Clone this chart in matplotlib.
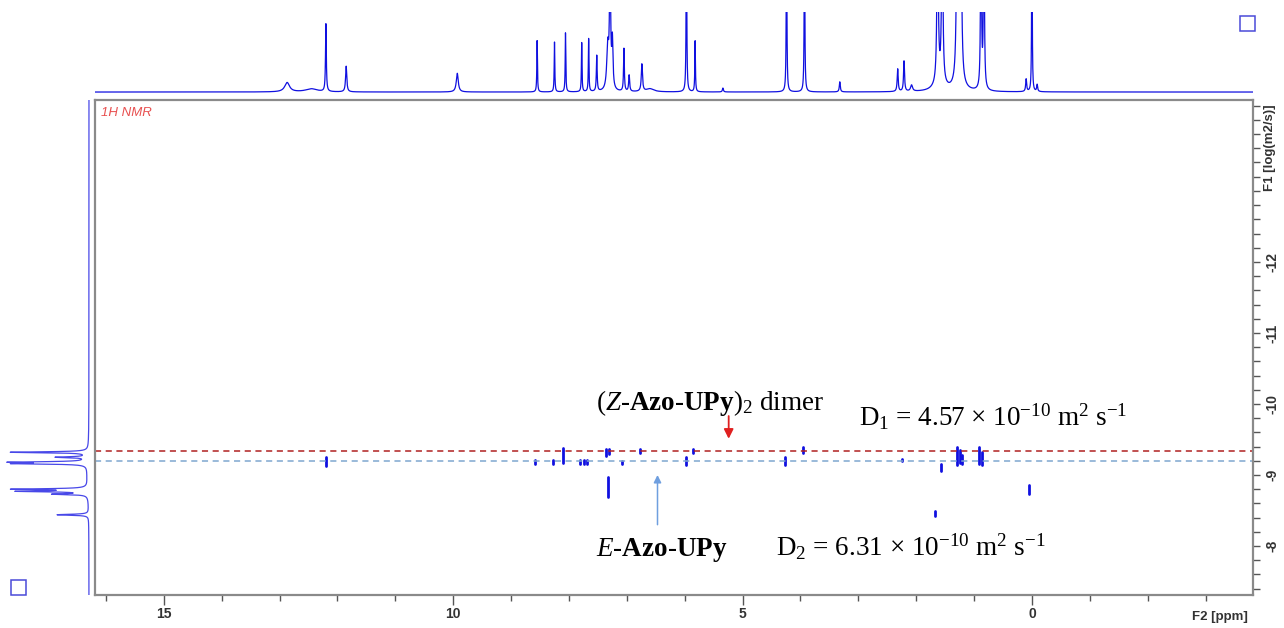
import numpy as np
import matplotlib
matplotlib.use("Agg")
import matplotlib.pyplot as plt
from matplotlib.patches import Rectangle
from matplotlib.ticker import MultipleLocator, FixedLocator

# --- data -------------------------------------------------------------------
# 1H projection on top: peak position (ppm), height (1 = top of panel), half width (ppm)
h1_ppm = [12.87, 12.45, 12.20, 11.85, 9.93, 8.55, 8.25, 8.06, 7.78, 7.66, 7.52,
          7.33, 7.29, 7.25, 7.05, 6.96, 6.74, 6.60, 5.97, 5.82, 5.34, 4.24, 3.93,
          3.32, 2.32, 2.21, 2.08, 1.63, 1.55, 1.60, 1.29, 1.23, 1.26, 0.88, 0.83,
          0.10, 0.00, -0.09]
h1_int = [0.12, 0.04, 0.87, 0.33, 0.24, 0.66, 0.64, 0.76, 0.63, 0.68, 0.46,
          0.55, 1.60, 0.60, 0.55, 0.21, 0.35, 0.04, 2.50, 0.66, 0.05, 2.50, 2.50,
          0.13, 0.29, 0.39, 0.08, 2.50, 2.50, 0.10, 3.00, 3.00, 0.10, 3.00, 3.00,
          0.16, 3.00, 0.09]
h1_wid = [0.05, 0.12, 0.008, 0.012, 0.02, 0.006, 0.006, 0.006, 0.006, 0.006, 0.008,
          0.02, 0.012, 0.012, 0.008, 0.01, 0.012, 0.08, 0.006, 0.006, 0.01, 0.006, 0.006,
          0.01, 0.01, 0.01, 0.02, 0.012, 0.012, 0.10, 0.014, 0.014, 0.08, 0.008, 0.008,
          0.01, 0.005, 0.01]

# DOSY cross peaks: ppm, log D lower / upper extent
dosy_ppm = [12.20, 8.59, 8.28, 8.10, 7.81, 7.74, 7.68, 7.36, 7.30, 7.33, 7.08,
            6.77, 5.98, 5.85, 4.26, 3.95, 2.25, 1.57, 1.67, 1.30, 1.25, 1.21,
            0.92, 0.87, 0.05]
dosy_lo = [-9.25, -9.21, -9.21, -9.38, -9.21, -9.21, -9.21, -9.37, -9.36, -8.97, -9.20,
           -9.36, -9.25, -9.36, -9.25, -9.39, -9.23, -9.15, -8.49, -9.40, -9.35, -9.28,
           -9.39, -9.32, -8.86]
dosy_hi = [-9.12, -9.16, -9.16, -9.17, -9.16, -9.16, -9.16, -9.27, -9.29, -8.69, -9.15,
           -9.31, -9.14, -9.31, -9.14, -9.31, -9.19, -9.06, -8.42, -9.14, -9.17, -9.15,
           -9.15, -9.14, -8.73]

# F1 projection on the left: log D, height, half width
f1_logd = [-9.32, -9.25, -9.18, -9.16, -9.00, -8.80, -8.77, -8.73, -8.44]
f1_int = [0.98, 0.39, 0.90, 0.85, 0.02, 0.92, 0.85, 0.42, 0.40]
f1_wid = [0.008, 0.008, 0.008, 0.008, 0.25, 0.008, 0.008, 0.008, 0.008]

# diffusion coefficients (m2/s)
d1_dimer = 4.57e-10
d2_mono = 6.31e-10

x_major = [15, 10, 5, 0]
y_major = [-14, -13, -12, -11, -10, -9, -8]
y_labels = ["", "", "-12", "-11", "-10", "-9", "-8"]

# --- figure ------------------------------------------------------------------
plt.rcParams['font.family'] = ['Liberation Sans', 'DejaVu Sans']
plt.rcParams['mathtext.fontset'] = 'custom'
plt.rcParams['mathtext.rm'] = 'Liberation Serif'
plt.rcParams['mathtext.it'] = 'Liberation Serif:italic'
plt.rcParams['mathtext.bf'] = 'Liberation Serif:bold'
plt.rcParams['mathtext.default'] = 'regular'

W, H = 1284, 628
fig = plt.figure(figsize=(W / 100, H / 100), dpi=100)

def box(x0, y0, x1, y1):
    # pixel box (top-left origin) -> figure fraction rect
    return [x0 / W, 1 - y1 / H, (x1 - x0) / W, (y1 - y0) / H]

ax = fig.add_axes(box(95, 100, 1253, 595))
ax_top = fig.add_axes(box(95, 12, 1253, 95), sharex=ax)
ax_left = fig.add_axes(box(3, 100, 93, 595), sharey=ax)

blue = '#1010e0'
gray = '#8a8a8a'

# top 1H spectrum
ppm = np.linspace(16.3, -3.9, 16000)
spec = np.zeros_like(ppm)
for p0, h, w in zip(h1_ppm, h1_int, h1_wid):
    spec += h * w**2 / ((ppm - p0)**2 + w**2)
ax_top.plot(ppm, spec, color=blue, lw=0.9)
ax_top.set_ylim(-0.038, 1.026)
ax_top.axis('off')

# left F1 projection
logd = np.linspace(-14.3, -7.3, 8000)
proj = np.zeros_like(logd)
for d0, h, w in zip(f1_logd, f1_int, f1_wid):
    proj += h * w**2 / ((logd - d0)**2 + w**2)
ax_left.plot(proj, logd, color='#4848e8', lw=0.9)
ax_left.set_xlim(1.089, -0.051)
ax_left.axis('off')

# 2D cross peaks
ax.vlines(dosy_ppm, dosy_lo, dosy_hi, color=blue, lw=2.0, capstyle='round')

# diffusion lines
ax.axhline(np.log10(d1_dimer), color='#b02020', lw=1.1, ls=(0, (4, 3)))
ax.axhline(np.log10(d2_mono), color='#7fa7cf', lw=1.1, ls=(0, (4, 3)))

ax.annotate('', xy=(5.24, -9.51), xytext=(5.24, -9.83),
            arrowprops=dict(arrowstyle='-|>', color='#e02020', lw=1.3,
                            mutation_scale=14, shrinkA=0, shrinkB=0))
ax.annotate('', xy=(6.47, -9.0), xytext=(6.47, -8.30),
            arrowprops=dict(arrowstyle='-|>', color='#6f9fdf', lw=1.1,
                            mutation_scale=11, shrinkA=0, shrinkB=0))

serif = dict(family='Liberation Serif', fontsize=19.5, color='black')
ax.text(7.53, -9.915, r'($\mathit{Z}$-$\mathbf{Azo}$-$\mathbf{UPy}$)$_2$ dimer',
        ha='left', va='baseline', **serif)
ax.text(2.98, -9.70, r'D$_1$ = 4.57 $\times$ 10$^{-10}$ m$^2$ s$^{-1}$',
        ha='left', va='baseline', **serif)
ax.text(7.53, -7.86, r'$\mathit{E}$-$\mathbf{Azo}$-$\mathbf{UPy}$',
        ha='left', va='baseline', **serif)
ax.text(4.43, -7.86, r'D$_2$ = 6.31 $\times$ 10$^{-10}$ m$^2$ s$^{-1}$',
        ha='left', va='baseline', **serif)

ax.text(0.005, 0.985, '1H NMR', transform=ax.transAxes, ha='left', va='top',
        fontsize=9.5, style='italic', color='#e85050')

# axes, ticks
ax.set_xlim(16.19, -3.82)
ax.set_ylim(-7.31, -14.28)
for s in ax.spines.values():
    s.set_color(gray)
    s.set_linewidth(1.6)

ax.xaxis.set_major_locator(FixedLocator(x_major))
ax.xaxis.set_minor_locator(MultipleLocator(1))
ax.yaxis.set_major_locator(FixedLocator(y_major))
ax.set_yticklabels(y_labels)
ax.yaxis.set_minor_locator(MultipleLocator(0.2))
ax.yaxis.tick_right()
ax.tick_params(axis='x', which='major', length=7, width=1.0, color='#555555',
               labelsize=10, labelcolor='#333333', pad=2)
ax.tick_params(axis='x', which='minor', length=4, width=1.0, color='#555555')
ax.tick_params(axis='y', which='both', length=5, width=1.0, color='#555555',
               labelsize=10, labelcolor='#333333', pad=4)
for lab in ax.get_xticklabels():
    lab.set_fontweight('bold')
for lab in ax.get_yticklabels():
    lab.set_fontweight('bold')
    lab.set_rotation(90)
    lab.set_va('center')

ax.text((1220 - 95) / 1158, -0.045, 'F2 [ppm]', transform=ax.transAxes,
        ha='center', va='center', fontsize=9.5, fontweight='bold', color='#333333')
ax.text(1.0 + 17 / 1158, 1 - 48 / 495, 'F1 [log(m2/s)]', transform=ax.transAxes,
        ha='center', va='center', rotation=90, fontsize=9.5, fontweight='bold',
        color='#333333')

# corner squares
fig.patches.append(Rectangle((1240 / W, 1 - 31 / H), 15 / W, 15 / H,
                             transform=fig.transFigure, fill=False,
                             edgecolor='#4a4ad8', lw=1.1))
fig.patches.append(Rectangle((11 / W, 1 - 595 / H), 15 / W, 15 / H,
                             transform=fig.transFigure, fill=False,
                             edgecolor='#4a4ad8', lw=1.1))

fig.savefig('out.png', dpi=100)
